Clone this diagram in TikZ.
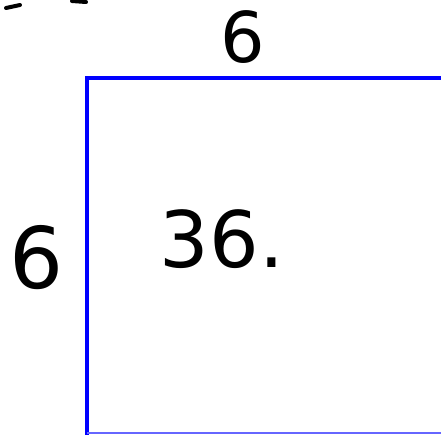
\documentclass[tikz,border=0pt]{standalone}
\usepackage{fontspec}
\setmainfont{DejaVu Sans}
\begin{document}
\begin{tikzpicture}[x=1pt,y=-1pt,
  edge/.style={blue,line width=4pt},
  hand/.style={inner sep=0pt,text=black},
  frag/.style={black,line width=4pt,line cap=round}]
\useasboundingbox (0,0) rectangle (441,434);
\fill[white] (0,0) rectangle (441,434);
\coordinate (bl) at (87,436);
\coordinate (tl) at (87,78);
\coordinate (tr) at (443,78);
\draw[edge] (bl) -- (tl) -- (tr);
\coordinate (b1) at (87,433);
\coordinate (b2) at (441,433);
\draw[blue!60,line width=1.2pt] (b1) -- (b2);
\node[hand,font=\fontsize{70}{70}\selectfont] (top) at (243,37) {6};
\node[hand,font=\fontsize{85}{85}\selectfont] (left) at (37,258) {6};
\node[hand,font=\fontsize{78}{78}\selectfont] (area) at (222,239) {36.};
\coordinate (f1) at (6,8);
\coordinate (f2) at (20,5);
\draw[frag] (f1) -- (f2);
\coordinate (f3) at (72,1);
\coordinate (f4) at (86,2);
\draw[frag] (f3) -- (f4);
\end{tikzpicture}
\end{document}
